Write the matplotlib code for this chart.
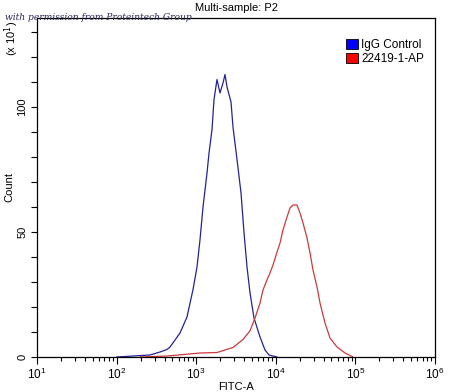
import matplotlib
matplotlib.use("Agg")
import matplotlib.pyplot as plt
from matplotlib.patches import Patch
from matplotlib.ticker import LogLocator, FixedLocator, NullFormatter

plt.rcParams['font.family'] = ['Liberation Sans', 'DejaVu Sans']

# Data (FITC-A intensity, count in units of x10^1)
igg_x = [101, 263, 351, 430, 469, 626, 766, 912, 1023, 1117, 1218, 1367, 1449, 1580,
         1674, 1825, 1990, 2172, 2301, 2438, 2737, 2899, 3256, 3656, 3990, 4348, 4745,
         5325, 6335, 7318, 8218, 10360]
igg_y = [0, 0.8, 2, 3, 4, 9.6, 16, 27, 36, 47, 60, 73.6, 81.6, 91,
         103, 111, 105.6, 109.6, 113, 108, 102, 92, 79, 65.6, 49.6, 36, 25.6,
         15.6, 8, 2.8, 0.8, 0]

ab_x = [197, 430, 1117, 1825, 2899, 3873, 4745, 5483, 6335, 6905, 7745, 8450, 9226,
        10360, 11300, 12310, 13830, 15080, 16440, 18460, 20140, 21970, 24670, 26920,
        29330, 32940, 35930, 41500, 47970, 58730, 73960, 93260]
ab_y = [0, 0.4, 1.6, 1.8, 3.8, 7, 10.5, 15.6, 21.6, 26.8, 30.8, 33.6, 36.8,
        42, 45.6, 50.8, 56, 59.6, 60.8, 60.8, 57.6, 53.6, 47.6, 41.6,
        34.8, 28, 21.6, 13.6, 7.6, 4, 1.6, 0]

series_names = ["IgG Control", "22419-1-AP"]
line_colors = ["#22229a", "#cc3a3a"]
patch_colors = ["#0000ff", "#ff0000"]

fig = plt.figure(figsize=(4.5, 3.92), dpi=100)
ax = fig.add_axes([37/450, 1-357/392, (435-37)/450, (357-18)/392])

ax.plot(igg_x, igg_y, color=line_colors[0], lw=0.9)
ax.plot(ab_x, ab_y, color=line_colors[1], lw=0.9)

ax.set_xscale('log')
ax.set_xlim(10, 1e6)
ax.set_ylim(0, 135.6)

ax.xaxis.set_major_locator(LogLocator(base=10, numticks=10))
ax.xaxis.set_minor_locator(LogLocator(base=10, subs=range(2, 10), numticks=100))
ax.xaxis.set_minor_formatter(NullFormatter())
ax.yaxis.set_major_locator(FixedLocator([0, 50, 100]))
ax.yaxis.set_minor_locator(FixedLocator(list(range(10, 140, 10))))

ax.tick_params(axis='both', which='both', direction='out', color='black', width=0.8)
ax.tick_params(axis='x', which='major', length=5, labelsize=8.5, pad=2)
ax.tick_params(axis='x', which='minor', length=3)
ax.tick_params(axis='y', which='major', length=4, labelsize=8, pad=3)
ax.tick_params(axis='y', which='minor', length=4)
for lab in ax.get_yticklabels():
    lab.set_rotation(90)
    lab.set_va('center')

for s in ax.spines.values():
    s.set_linewidth(0.9)

ax.set_xlabel("FITC-A", fontsize=8, labelpad=0)
ax.set_ylabel("Count", fontsize=8, labelpad=2)

handles = [Patch(facecolor=patch_colors[i], edgecolor='black', linewidth=0.6, label=series_names[i])
           for i in range(2)]
ax.legend(handles=handles, loc='upper right', bbox_to_anchor=(0.99, 0.96), frameon=False,
          fontsize=8.5, handlelength=1.0, handleheight=1.0, handletextpad=0.3,
          labelspacing=0.15, borderaxespad=0.2)

fig.text(236/450, 1-8/392, "Multi-sample: P2", ha='center', va='center', fontsize=8)
fig.text(12/450, 1-38/392, r"(x 10$^1$)", rotation=90, ha='center', va='center', fontsize=8)
fig.text(5/450, 1-17/392, "with permission from Proteintech Group", ha='left', va='center',
         fontsize=6.6, style='italic', family='DejaVu Serif', color='#2a2a55')

fig.savefig("out.png", dpi=100)
